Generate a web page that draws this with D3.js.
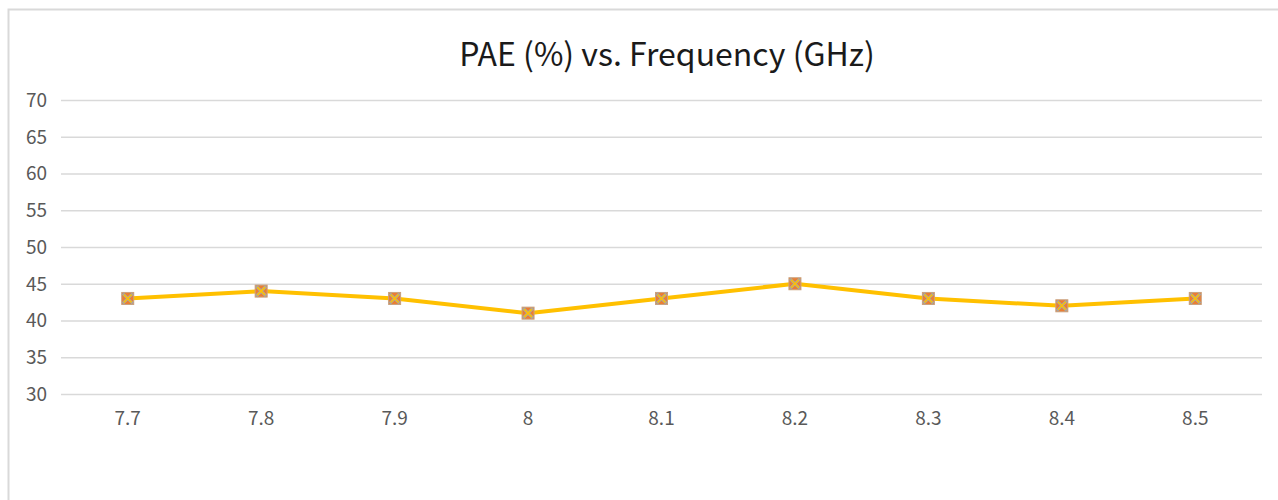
<!DOCTYPE html>
<html>
<head>
<meta charset="utf-8">
<script src="https://cdn.jsdelivr.net/npm/d3@7"></script>
<style>
  body { margin: 0; background: #fff; }
  svg { display: block; }
  .grid line { stroke: #d9d9d9; stroke-width: 1.5; }
  .grid path { display: none; }
  .grid .tick text { fill: #595959; font-family: "Noto Sans CJK SC", "Noto Sans", sans-serif; font-size: 19px; font-weight: 400; }
</style>
</head>
<body>
<svg id="chart" width="1278" height="500"></svg>
<script>
const frequencies = ['7.7', '7.8', '7.9', '8', '8.1', '8.2', '8.3', '8.4', '8.5']
const paeValues = [43, 44, 43, 41, 43, 45, 43, 42, 43]
const yTicks = [30, 35, 40, 45, 50, 55, 60, 65, 70]
const chartTitle = 'PAE (%) vs. Frequency (GHz)'

const svg = d3.select('#chart')
const width = 1278, height = 500
const margin = { top: 100, right: 16, bottom: 106, left: 61 }

// chart area border (only top/left visible in the picture)
svg.append('rect')
    .attr('x', 8.5).attr('y', 9.5)
    .attr('width', width + 10).attr('height', height + 10)
    .attr('fill', 'none')
    .attr('stroke', '#d9d9d9')
    .attr('stroke-width', 2)

svg.append('text')
    .attr('x', 667).attr('y', 66)
    .attr('text-anchor', 'middle')
    .attr('font-family', '"Noto Sans CJK SC", "Noto Sans", sans-serif')
    .attr('font-size', 32)
    .attr('fill', '#1a1a1a')
    .text(chartTitle)

const x = d3.scaleBand()
    .domain(frequencies)
    .range([margin.left, width - margin.right])

const y = d3.scaleLinear()
    .domain([30, 70])
    .range([height - margin.bottom, margin.top])

svg.append('g')
    .attr('class', 'grid')
    .attr('transform', 'translate(' + margin.left + ',0)')
    .call(d3.axisLeft(y).tickValues(yTicks).tickSize(-(width - margin.left - margin.right)).tickPadding(14))
    .call(g => g.selectAll('.tick text').attr('dy', '0.34em'))

svg.append('g')
    .attr('class', 'grid')
    .attr('transform', 'translate(0,' + (height - margin.bottom) + ')')
    .call(d3.axisBottom(x).tickSize(0).tickPadding(18))

const line = d3.line()
    .x(d => x(d.f) + x.bandwidth() / 2)
    .y(d => y(d.v))

const data = frequencies.map((f, i) => ({ f: f, v: paeValues[i] }))

svg.append('path')
    .datum(data)
    .attr('fill', 'none')
    .attr('stroke', '#FFC000')
    .attr('stroke-width', 4)
    .attr('stroke-linejoin', 'round')
    .attr('d', line)

const marks = svg.append('g').selectAll('g')
    .data(data)
    .join('g')
    .attr('transform', d => 'translate(' + (x(d.f) + x.bandwidth() / 2) + ',' + y(d.v) + ')')

marks.append('rect')
    .attr('x', -6).attr('y', -6)
    .attr('width', 12).attr('height', 12)
    .attr('fill', '#ED7D31')
    .attr('stroke', '#C9A27E')
    .attr('stroke-width', 1)

marks.append('path')
    .attr('d', 'M-5,-5L5,5M-5,5L5,-5')
    .attr('stroke', '#A5A5A5')
    .attr('stroke-width', 3)

marks.append('path')
    .attr('d', 'M-4,-4L4,4M-4,4L4,-4')
    .attr('stroke', '#FFC000')
    .attr('stroke-width', 1.5)
</script>
</body>
</html>
